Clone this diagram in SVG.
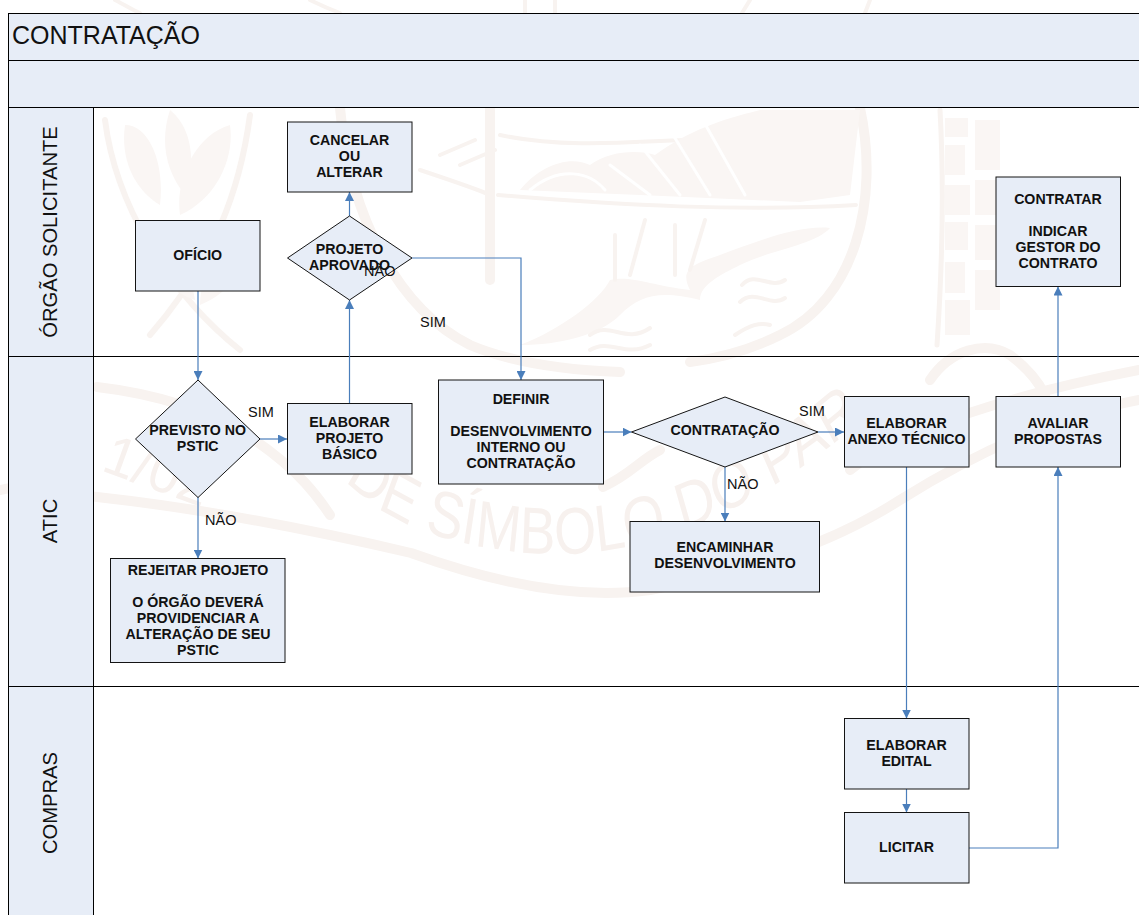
<svg xmlns="http://www.w3.org/2000/svg" width="1139" height="915" viewBox="0 0 1139 915">
<style>
.n{fill:#e7edf7;stroke:#141414;stroke-width:1}
.p{fill:#e7edf7;stroke:#000;stroke-width:1}
.t{font-family:"Liberation Sans",Arial,sans-serif;font-size:14.2px;font-weight:bold;fill:#111;text-anchor:middle}
.l{font-family:"Liberation Sans",Arial,sans-serif;font-size:14.5px;fill:#111}
.h{font-family:"Liberation Sans",Arial,sans-serif;font-size:25px;fill:#111}
.v{font-family:"Liberation Sans",Arial,sans-serif;font-size:20.2px;fill:#111;text-anchor:middle}
.c{fill:none;stroke:#4a7ebb;stroke-width:1.2;marker-end:url(#a)}
.w{fill:none;stroke:#f8f3f0;stroke-width:10;stroke-linecap:round}
.w2{fill:none;stroke:#f8f3f0;stroke-width:4;stroke-linecap:round}
.f{fill:#faf6f4;stroke:none}
.wt{font-family:"Liberation Sans",Arial,sans-serif;font-size:66px;fill:#f7f1ee}
</style>
<defs>
<marker id="a" markerUnits="userSpaceOnUse" markerWidth="9" markerHeight="9" refX="9" refY="4.500" orient="auto"><path d="M0 0L9 4.500L0 9Z" fill="#4a7ebb"/></marker>
<path id="arc" d="M421 480Q488 540 634 552Q829 570 1037 430"/>
</defs>
<rect width="1139" height="915" fill="#fff"/>
<g id="watermark">
<path class="w" d="M0 490C50 480 70 495 97 497C170 505 270 520 411 553C500 585 580 600 650 590C750 570 830 545 900 500C980 450 1060 415 1139 400"/>
<path class="w" d="M97 387C140 392 197 403 250 437C300 470 320 500 330 515M603 487C630 475 640 460 660 450M850 470C900 430 1010 395 1139 370"/>
<path class="w" d="M860 108C880 200 855 300 780 335C750 350 720 358 690 362"/>
<path class="w" d="M340 108C350 220 400 310 470 345C510 362 560 370 620 372"/>
<path class="w" d="M490 108V280"/>
<path class="w2" d="M498 195C620 205 740 212 856 205M420 170C450 180 480 190 490 195M500 135C570 150 650 140 690 140C730 150 760 130 790 115M440 155L475 140M460 165L495 150"/>
<path class="f" d="M520 190C540 165 570 155 590 165C610 150 640 150 655 155C690 130 720 120 760 110L860 110L850 195L800 202L640 195Z"/>
<path class="w2" d="M530 190C560 165 590 172 605 190M610 165L650 195M640 145L680 195M670 130L710 195M700 115L745 195" style="stroke:#fff;stroke-width:3"/>
<path class="f" d="M520 345C560 330 600 300 610 280C630 275 650 285 690 290C680 270 690 265 720 255C760 240 800 225 830 228C815 245 770 250 740 265C720 275 700 285 700 300C660 290 640 295 620 315C600 335 560 345 520 345Z"/>
<path class="w2" d="M615 280V235M630 275L645 220M675 275V225M690 270L705 220"/>
<path class="w2" d="M742 285C755 270 770 290 785 280M740 302C755 288 770 308 785 298M590 335C610 320 625 345 650 328M590 350C610 338 625 358 650 345M735 335C750 325 760 322 770 325"/>
<path class="w" d="M940 110C945 200 940 300 937 345" style="stroke-width:5"/>
<path class="f" d="M945 118H968V137H945ZM945 145H965V175H945ZM945 185H970V215H945ZM945 222H968V250H945ZM945 262H965V293H945ZM945 300H970V335H945ZM975 120H1000V170H975ZM975 180H1000V215H975ZM975 225H1000V260H975ZM975 270H1000V310H975Z"/>
<path class="w" d="M930 380C950 350 985 340 1010 355C1030 370 1040 385 1045 395"/>
<path class="w" d="M105 120C115 200 165 290 240 350M250 115C240 190 215 260 150 335" style="stroke-width:6"/>
<path class="f" d="M125 125C150 125 165 165 160 205C135 190 120 160 125 125ZM230 125C235 160 215 200 180 215C175 180 195 135 230 125ZM170 110C195 130 195 170 185 195C165 170 160 140 170 110ZM145 225C170 235 190 265 195 300C165 290 145 260 145 225ZM250 235C250 270 225 295 200 305C200 275 220 245 250 235Z"/>
<path class="w2" d="M115 0C125 5 132 10 140 13M310 0C320 5 332 10 340 13M525 0V13M555 0V13M750 0L742 13M870 0L865 13"/>
<text class="wt" transform="scale(.82 1)"><textPath href="#arc">DE SÍMBOLO DO PAR</textPath></text>
<text class="wt" transform="translate(100 470) rotate(20)" style="font-size:56px">1/02</text>
</g>
<g id="pool">
<rect class="p" x="8.500" y="13.500" width="1140" height="47"/>
<rect class="p" x="8.500" y="60.500" width="1140" height="47"/>
<rect class="p" x="8.500" y="107.500" width="85" height="249"/>
<rect class="p" x="8.500" y="356.500" width="85" height="330"/>
<rect class="p" x="8.500" y="686.500" width="85" height="240"/>
<path d="M93.500 356.500H1139M93.500 686.500H1139M93.500 107.500H1139" stroke="#000" fill="none"/>
<text class="h" x="12" y="44">CONTRATAÇÃO</text>
<text class="v" transform="translate(57 232) rotate(-90)">ÓRGÃO SOLICITANTE</text>
<text class="v" transform="translate(57 521) rotate(-90)">ATIC</text>
<text class="v" transform="translate(57 803) rotate(-90)">COMPRAS</text>
</g>
<g id="connectors">
<path class="c" d="M198 291V380"/>
<path class="c" d="M260 439H287"/>
<path class="c" d="M198 497V558.500"/>
<path class="c" d="M349.500 403.500V300"/>
<path class="c" d="M349.500 216V192"/>
<path class="c" d="M412 258H521V380"/>
<path class="c" d="M603.500 432H631.500"/>
<path class="c" d="M818 432H844"/>
<path class="c" d="M725 467V521.500"/>
<path class="c" d="M906.500 467V718.500"/>
<path class="c" d="M906.500 789V812.500"/>
<path class="c" d="M969 848H1058V467"/>
<path class="c" d="M1058 396.500V286.500"/>
</g>
<g id="oficio"><rect class="n" x="135.500" y="220.500" width="124.500" height="70.500"/><text class="t" x="197.700" y="260">OFÍCIO</text></g>
<g id="cancelar"><rect class="n" x="287.500" y="122" width="124.500" height="70"/><text class="t"><tspan x="349.500" y="145">CANCELAR</tspan><tspan x="349.500" y="161">OU</tspan><tspan x="349.500" y="177">ALTERAR</tspan></text></g>
<g id="aprovado"><path class="n" d="M349.500 216L412 258L349.500 300L287.500 258Z"/><text class="t"><tspan x="349.500" y="254">PROJETO</tspan><tspan x="349.500" y="270">APROVADO</tspan></text></g>
<g id="previsto"><path class="n" d="M198 380L260 439L198 497.500L135.500 439Z"/><text class="t"><tspan x="197.700" y="435">PREVISTO NO</tspan><tspan x="197.700" y="451">PSTIC</tspan></text></g>
<g id="projeto"><rect class="n" x="287.500" y="403.500" width="124.500" height="70.500"/><text class="t"><tspan x="349.500" y="427">ELABORAR</tspan><tspan x="349.500" y="443">PROJETO</tspan><tspan x="349.500" y="459">BÁSICO</tspan></text></g>
<g id="definir"><rect class="n" x="438.500" y="380" width="165" height="104"/><text class="t"><tspan x="521" y="404">DEFINIR</tspan><tspan x="521" y="436">DESENVOLVIMENTO</tspan><tspan x="521" y="452">INTERNO OU</tspan><tspan x="521" y="468">CONTRATAÇÃO</tspan></text></g>
<g id="contratacao"><path class="n" d="M725 397L818 432L725 467L631.500 432Z"/><text class="t" x="725" y="435">CONTRATAÇÃO</text></g>
<g id="anexo"><rect class="n" x="844.500" y="396.500" width="124.500" height="70.500"/><text class="t"><tspan x="906.500" y="428">ELABORAR</tspan><tspan x="906.500" y="444">ANEXO TÉCNICO</tspan></text></g>
<g id="avaliar"><rect class="n" x="996" y="396.500" width="124.500" height="70.500"/><text class="t"><tspan x="1058" y="428">AVALIAR</tspan><tspan x="1058" y="444">PROPOSTAS</tspan></text></g>
<g id="encaminhar"><rect class="n" x="630" y="521.500" width="189.500" height="70.500"/><text class="t"><tspan x="725" y="552">ENCAMINHAR</tspan><tspan x="725" y="568">DESENVOLVIMENTO</tspan></text></g>
<g id="rejeitar"><rect class="n" x="110.500" y="558.500" width="174.500" height="104"/><text class="t"><tspan x="198" y="575">REJEITAR PROJETO</tspan><tspan x="198" y="607">O ÓRGÃO DEVERÁ</tspan><tspan x="198" y="623">PROVIDENCIAR A</tspan><tspan x="198" y="639">ALTERAÇÃO DE SEU</tspan><tspan x="198" y="655">PSTIC</tspan></text></g>
<g id="contratar"><rect class="n" x="996" y="177" width="124.500" height="109.500"/><text class="t"><tspan x="1058" y="204">CONTRATAR</tspan><tspan x="1058" y="236">INDICAR</tspan><tspan x="1058" y="252">GESTOR DO</tspan><tspan x="1058" y="268">CONTRATO</tspan></text></g>
<g id="edital"><rect class="n" x="844.500" y="718.500" width="124.500" height="70.500"/><text class="t"><tspan x="906.500" y="750">ELABORAR</tspan><tspan x="906.500" y="766">EDITAL</tspan></text></g>
<g id="licitar"><rect class="n" x="844.500" y="812.500" width="124.500" height="70.500"/><text class="t" x="906.500" y="852">LICITAR</text></g>
<g id="labels">
<text class="l" x="248" y="417">SIM</text>
<text class="l" x="364" y="276">NÃO</text>
<text class="l" x="420" y="327">SIM</text>
<text class="l" x="205" y="525">NÃO</text>
<text class="l" x="799" y="416">SIM</text>
<text class="l" x="727" y="489">NÃO</text>
</g>
</svg>
